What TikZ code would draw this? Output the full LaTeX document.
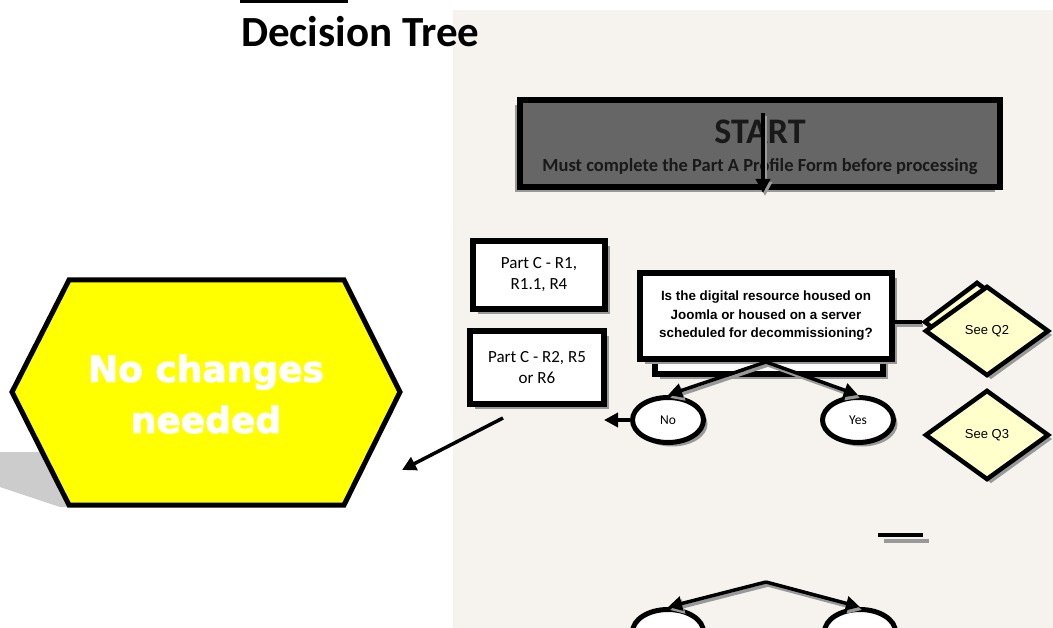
\documentclass[tikz,border=0pt]{standalone}
\usepackage{fontspec}
\setmainfont{Carlito}
\newfontfamily\arialfont{Liberation Sans}
\newfontfamily\heavyfont[FakeBold=2.5]{DejaVu Sans Bold}
\usepackage{xcolor}
\usetikzlibrary{arrows.meta, positioning, shapes.geometric, shadows}

\definecolor{pagebg}{HTML}{F6F3EF}
\definecolor{startgray}{HTML}{666666}
\definecolor{shadowgray}{HTML}{999999}
\definecolor{notepale}{HTML}{FFFFCC}
\definecolor{hexyellow}{HTML}{FFFF00}

\begin{document}
\begin{tikzpicture}[x=1pt, y=-1pt,
    arr/.style={line width=3.5pt, -{Triangle[length=14pt, width=14pt]}},
    arrshade/.style={arr, shadowgray, transform canvas={xshift=2pt, yshift=-3pt}},
    partbox/.style={draw, line width=6pt, fill=white, align=center, inner sep=0pt,
        font=\fontsize{17}{21}\selectfont,
        drop shadow={shadow xshift=5pt, shadow yshift=-5pt, opacity=1, fill=shadowgray}},
    qbox/.style={partbox, font=\arialfont\bfseries\fontsize{13.4}{18.5}\selectfont},
    answer/.style={ellipse, draw, line width=5pt, fill=white, inner sep=0pt,
        minimum width=71pt, minimum height=45pt, font=\fontsize{13.5}{16}\selectfont,
        drop shadow={shadow xshift=4pt, shadow yshift=-4pt, opacity=1, fill=shadowgray}},
    seeq/.style={diamond, draw, line width=4.5pt, fill=notepale, inner sep=0pt,
        minimum width=124pt, minimum height=90pt, font=\arialfont\fontsize{13}{16}\selectfont,
        drop shadow={shadow xshift=4pt, shadow yshift=-4pt, opacity=1, fill=shadowgray}}
]
    \useasboundingbox (0,0) rectangle (1053,628);
    \clip (0,0) rectangle (1053,628);

    % Page background and heading
    \fill[pagebg] (453,10) rectangle (1053,628);
    \fill (240,0) rectangle (348,3.3);
    \node[anchor=base west, inner sep=0pt, font=\bfseries\fontsize{43}{43}\selectfont] (title) at (241,47) {Decision Tree};

    % Start box
    \node[draw, line width=6pt, fill=startgray, minimum width=480pt, minimum height=87pt,
        drop shadow={shadow xshift=-5pt, shadow yshift=-5pt, opacity=1, fill=shadowgray}] (start) at (760,143.5) {};
    \node[text=black!90, font=\bfseries\fontsize{36}{36}\selectfont] (starttitle) at (760,132) {START};
    \node[text=black!90, font=\bfseries\fontsize{18.5}{22}\selectfont] (startnote) at (760,167) {Must complete the Part A Profile Form before processing};
    \coordinate (startin) at (763,113);
    \coordinate (startout) at (763,193);
    \draw[arrshade] (startin) -- (startout);
    \draw[arr] (startin) -- (startout);

    % Part C boxes
    \node[partbox, minimum width=132pt, minimum height=68pt] (partc1) at (539,275) {Part C - R1,\\R1.1, R4};
    \node[partbox, minimum width=134pt, minimum height=73pt] (partc2) at (537,367.5) {Part C - R2, R5\\or R6};

    % Question
    \node[partbox, minimum width=228pt, minimum height=81pt] (qback) at (769,333.5) {};
    \node[qbox, minimum width=252pt, minimum height=86pt] (q1) at (766,316)
        {Is the digital resource housed on\\Joomla or housed on a server\\scheduled for decommissioning?};

    % See Q2 / See Q3
    \node[seeq, minimum width=106pt, minimum height=80pt] (q2back) at (977,322) {};
    \draw[shadowgray, line width=3.5pt, transform canvas={xshift=1pt, yshift=-3.5pt}] ([yshift=-6pt]q1.east) -- (q2back.west);
    \draw[line width=3.5pt] ([yshift=-6pt]q1.east) -- (q2back.west);
    \node[seeq] (q2) at (987,331) {See Q2};
    \node[seeq] (q3) at (987,435) {See Q3};

    % Answers
    \node[answer] (no) at (668,420) {No};
    \node[answer] (yes) at (858,420) {Yes};
    \draw[arrshade] (q1.south) -- (no.north);
    \draw[arrshade] (q1.south) -- (yes.north);
    \draw[arr] (q1.south) -- (no.north);
    \draw[arr] (q1.south) -- (yes.north);
    \coordinate (notip) at (604,420);
    \draw[arr] (no.west) -- (notip);

    % No changes needed
    \fill[black!20] (0,452) -- (41,452) -- (68,507) -- (60,507) -- (0,487) -- cycle;
    \draw[line width=5pt, fill=hexyellow, line join=miter]
        (12,392) -- (69,280) -- (344,280) -- (400,392) -- (344,505) -- (69,505) -- cycle;
    \node[text=white, align=center, font=\heavyfont\fontsize{36}{51}\selectfont] (nochange) at (206,394) {No changes\\needed};
    \coordinate (hexfrom) at (503,418);
    \coordinate (hexto) at (402,470);
    \draw[arr] (hexfrom) -- (hexto);

    % Lower branch
    \draw[line width=3.5pt, shadowgray] (884,541) -- (929,541);
    \draw[line width=3.5pt] (878,535) -- (923,535);
    \node[answer] (nextno) at (668,632) {};
    \node[answer] (nextyes) at (860,632) {};
    \coordinate (fork) at (766,582);
    \draw[arrshade] (fork) -- (nextno.north);
    \draw[arrshade] (fork) -- (nextyes.north);
    \draw[arr] (fork) -- (nextno.north);
    \draw[arr] (fork) -- (nextyes.north);
\end{tikzpicture}
\end{document}
